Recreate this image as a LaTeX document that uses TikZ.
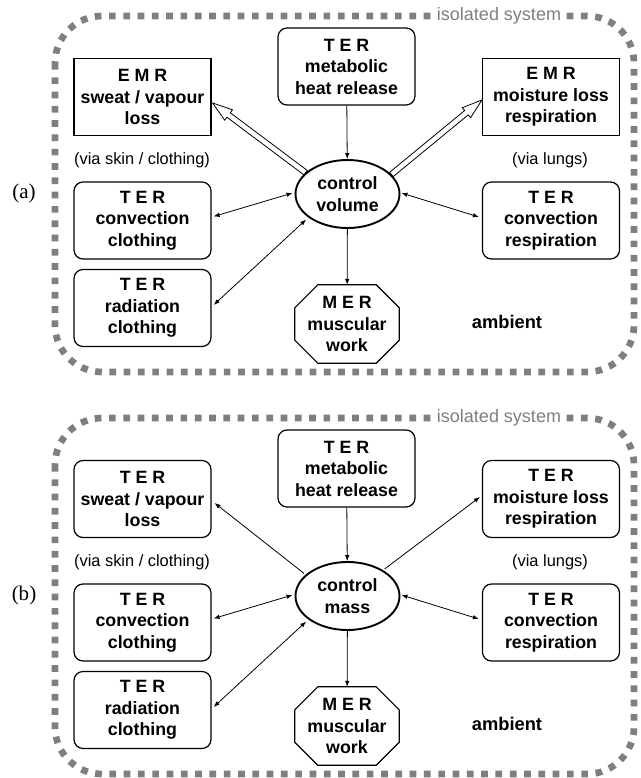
\documentclass[tikz,border=0pt]{standalone}
\usepackage{fontspec}
\setmainfont{Liberation Sans}
\newfontfamily\serifabc{Liberation Serif}
\usetikzlibrary{shapes.geometric,arrows.meta,calc}
\definecolor{bordergray}{HTML}{7F7F7F}
\newcommand\myhollowarrow[3]{%
  \coordinate (#3) at ($(#2)!20pt!(#1)$);
  \draw[hollow] ($(#1)!2.8pt!90:(#2)$) -- ($(#3)!2.8pt!90:(#2)$) -- ($(#3)!6.5pt!90:(#2)$) -- (#2)
     -- ($(#3)!6.5pt!-90:(#2)$) -- ($(#3)!2.8pt!-90:(#2)$) -- ($(#1)!2.8pt!-90:(#2)$) -- cycle;}
\begin{document}
\begin{tikzpicture}[x=1pt,y=-1pt,
  boxfont/.style={font=\fontsize{17.8}{21.5}\selectfont\bfseries},
  rbox/.style={boxfont, draw, line width=1.2pt, rounded corners=9pt, minimum width=137pt, minimum height=77pt, align=center, inner sep=0pt},
  sbox/.style={rbox, rounded corners=0pt},
  cvol/.style={boxfont, draw, ellipse, line width=1.9pt, minimum width=104pt, minimum height=68pt, align=center, inner sep=0pt},
  octbox/.style={boxfont, minimum width=104pt, minimum height=78pt, align=center, inner sep=0pt},
  octline/.style={line width=1.2pt},
  smalltxt/.style={font=\fontsize{16.4}{19}\selectfont},
  ambtxt/.style={font=\fontsize{18.3}{21}\selectfont\bfseries},
  panellbl/.style={font=\fontsize{21}{24}\serifabc},
  isotxt/.style={font=\fontsize{18}{20}\selectfont, text=bordergray, fill=white, inner sep=4pt},
  border/.style={draw=bordergray, line width=6.7pt, dash pattern=on 6.7pt off 7.6pt, rounded corners=47pt},
  tipstyle/.style={line width=0.8pt},
  sgl/.style={tipstyle, -{Latex[length=6pt,width=4.5pt]}},
  dbl/.style={tipstyle, {Latex[length=6pt,width=4.5pt]}-{Latex[length=6pt,width=4.5pt]}},
  hollow/.style={draw, fill=white, line width=0.8pt, line join=miter}
]
\useasboundingbox (0,0) rectangle (640,778);

% ---------------- panel (a) ----------------
\draw[border] (55,16) rectangle (634,372);
\node[isotxt] (isoa) at (499,16) {isolated system};
\node[panellbl] (lbla) at (24,193) {(a)};

\node[sbox] (emr1a) at (142.5,97) {E M R\\sweat / vapour\\loss};
\node[rbox] (meta) at (346.5,66.5) {T E R\\metabolic\\heat release};
\node[sbox] (emr2a) at (551,97) {E M R\\moisture loss\\respiration};
\node[smalltxt] (via1a) at (142,160) {(via skin / clothing)};
\node[smalltxt] (via2a) at (550,160) {(via lungs)};
\node[rbox] (conv1a) at (142.5,220.5) {T E R\\convection\\clothing};
\node[rbox] (rada) at (142.5,308) {T E R\\radiation\\clothing};
\node[rbox] (conv2a) at (551,220.5) {T E R\\convection\\respiration};
\node[cvol] (cva) at (347.5,194) {control\\volume};
\node[octbox] (mera) at (347,324) {M E R\\muscular\\work};
\draw[octline] ($(mera.north west)+(23,0)$) -- ($(mera.north east)+(-23,0)$) -- ($(mera.north east)+(0,23)$)
  -- ($(mera.south east)+(0,-23)$) -- ($(mera.south east)+(-23,0)$) -- ($(mera.south west)+(23,0)$)
  -- ($(mera.south west)+(0,-23)$) -- ($(mera.north west)+(0,23)$) -- cycle;
\node[ambtxt] (amba) at (507,322) {ambient};

\draw[sgl] (meta) -- (cva);
\draw[sgl] (cva) -- (mera);
\draw[dbl] ($(conv1a.east)+(2,-4)$) -- ($(cva.west)+(-2,-1)$);
\draw[dbl, shorten >=3pt] ($(rada.east)+(2,-3)$) -- (cva.211);
\draw[dbl] ($(cva.east)+(1,-1)$) -- ($(conv2a.west)+(-3,-3.5)$);
\coordinate (t1a) at (cva.153);
\coordinate (h1a) at ($(emr1a.east)+(1,6)$);
\myhollowarrow{t1a}{h1a}{b1a}
\coordinate (t2a) at (cva.24);
\coordinate (h2a) at ($(emr2a.west)+(0,3)$);
\myhollowarrow{t2a}{h2a}{b2a}

% ---------------- panel (b) ----------------
\begin{scope}[shift={(0,402)}]
\draw[border] (55,16) rectangle (634,372);
\node[isotxt] (isob) at (499,16) {isolated system};
\node[panellbl] (lblb) at (24,193) {(b)};

\node[rbox] (emr1b) at (142.5,97) {T E R\\sweat / vapour\\loss};
\node[rbox] (metb) at (346.5,66.5) {T E R\\metabolic\\heat release};
\node[rbox] (emr2b) at (551,97) {T E R\\moisture loss\\respiration};
\node[smalltxt] (via1b) at (142,160) {(via skin / clothing)};
\node[smalltxt] (via2b) at (550,160) {(via lungs)};
\node[rbox] (conv1b) at (142.5,220.5) {T E R\\convection\\clothing};
\node[rbox] (radb) at (142.5,308) {T E R\\radiation\\clothing};
\node[rbox] (conv2b) at (551,220.5) {T E R\\convection\\respiration};
\node[cvol] (cvb) at (347.5,194) {control\\mass};
\node[octbox] (merb) at (347,324) {M E R\\muscular\\work};
\draw[octline] ($(merb.north west)+(23,0)$) -- ($(merb.north east)+(-23,0)$) -- ($(merb.north east)+(0,23)$)
  -- ($(merb.south east)+(0,-23)$) -- ($(merb.south east)+(-23,0)$) -- ($(merb.south west)+(23,0)$)
  -- ($(merb.south west)+(0,-23)$) -- ($(merb.north west)+(0,23)$) -- cycle;
\node[ambtxt] (ambb) at (507,322) {ambient};

\draw[sgl] (metb) -- (cvb);
\draw[sgl] (cvb) -- (merb);
\draw[dbl] ($(conv1b.east)+(2,-4)$) -- ($(cvb.west)+(-2,-1)$);
\draw[dbl, shorten >=3pt] ($(radb.east)+(2,-3)$) -- (cvb.211);
\draw[dbl] ($(cvb.east)+(1,-1)$) -- ($(conv2b.west)+(-3,-3.5)$);
\draw[sgl, shorten <=2pt] (cvb.153) -- ($(emr1b.east)+(3,4)$);
\draw[sgl, shorten <=2pt] (cvb.36) -- ($(emr2b.west)+(-2,-2)$);
\end{scope}
\end{tikzpicture}
\end{document}
